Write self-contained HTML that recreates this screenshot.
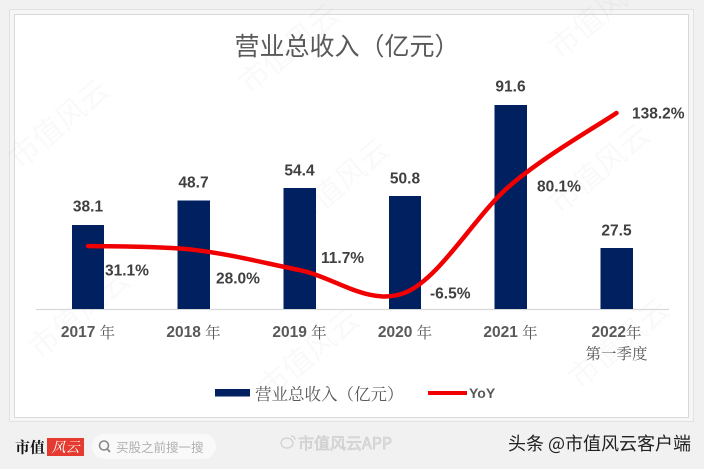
<!DOCTYPE html>
<html><head><meta charset="utf-8">
<style>
html,body{margin:0;padding:0;background:#f1f1f1;}
svg{display:block;}
</style></head>
<body>
<svg width="704" height="469" viewBox="0 0 704 469" xmlns="http://www.w3.org/2000/svg">
  <rect x="0" y="0" width="704" height="469" fill="#f1f1f1"/>
  <rect x="9.5" y="9.5" width="684" height="412" fill="#f6f6f6" stroke="#e2e2e2" stroke-width="1"/>
  <rect x="14.5" y="14.5" width="674" height="403" fill="#ffffff" stroke="#d8d8d8" stroke-width="1"/>

  <!-- watermarks -->
  <g font-family="'Noto Sans CJK SC', sans-serif" font-size="30" fill="#000" fill-opacity="0.022">
    <text x="250" y="95" transform="rotate(-40 250 95)">市值风云</text>
    <text x="560" y="60" transform="rotate(-40 560 60)">市值风云</text>
    <text x="20" y="170" transform="rotate(-40 20 170)">市值风云</text>
    <text x="300" y="230" transform="rotate(-40 300 230)">市值风云</text>
    <text x="560" y="215" transform="rotate(-40 560 215)">市值风云</text>
    <text x="40" y="360" transform="rotate(-40 40 360)">市值风云</text>
    <text x="270" y="400" transform="rotate(-40 270 400)">市值风云</text>
    <text x="580" y="390" transform="rotate(-40 580 390)">市值风云</text>
  </g>

  <!-- title -->
  <text x="347" y="45" text-anchor="middle" dominant-baseline="central" font-family="'Noto Sans CJK SC', sans-serif" font-size="25" fill="#595959">营业总收入（亿元）</text>

  <!-- axis -->
  <line x1="36" y1="309.5" x2="669" y2="309.5" stroke="#d9d9d9" stroke-width="1.2"/>

  <!-- bars -->
  <g fill="#002060">
    <rect x="72" y="225" width="32" height="84"/>
    <rect x="177.5" y="200.5" width="32.5" height="108.5"/>
    <rect x="283.5" y="188" width="32.5" height="121"/>
    <rect x="389" y="196" width="32" height="113"/>
    <rect x="494.5" y="105" width="32.5" height="204"/>
    <rect x="600.5" y="248" width="32.5" height="61"/>
  </g>

  <!-- bar labels -->
  <g font-family="'Liberation Sans', sans-serif" font-weight="bold" font-size="15.5" fill="#404040" text-anchor="middle" dominant-baseline="central">
    <text x="88" y="207">38.1</text>
    <text x="193.5" y="183">48.7</text>
    <text x="299.5" y="171">54.4</text>
    <text x="405" y="179">50.8</text>
    <text x="510.5" y="87">91.6</text>
    <text x="616.5" y="231">27.5</text>
  </g>

  <!-- YoY line -->
  <path d="M88,246 C105.6,246.6 158.25,245.78 193.5,249.8 C228.75,253.82 264.25,262.95 299.5,270.1 C334.75,277.25 369.83,306.87 405,292.7 C440.17,278.53 475.25,215.05 510.5,185.1 C545.75,155.15 598.83,125.02 616.5,113" fill="none" stroke="#f00000" stroke-width="4.5" stroke-linecap="round"/>

  <!-- YoY labels -->
  <g font-family="'Liberation Sans', sans-serif" font-weight="bold" font-size="15.5" fill="#404040" dominant-baseline="central">
    <text x="105" y="271">31.1%</text>
    <text x="216" y="279">28.0%</text>
    <text x="321" y="258.5">11.7%</text>
    <text x="430" y="294">-6.5%</text>
    <text x="537" y="187">80.1%</text>
    <text x="632" y="114">138.2%</text>
  </g>

  <!-- x labels -->
  <g font-size="15.5" fill="#595959" text-anchor="middle" dominant-baseline="central">
    <text x="88" y="332"><tspan font-family="'Liberation Sans', sans-serif" font-weight="bold">2017 </tspan><tspan font-family="'Noto Serif CJK SC', serif">年</tspan></text>
    <text x="193.5" y="332"><tspan font-family="'Liberation Sans', sans-serif" font-weight="bold">2018 </tspan><tspan font-family="'Noto Serif CJK SC', serif">年</tspan></text>
    <text x="299.5" y="332"><tspan font-family="'Liberation Sans', sans-serif" font-weight="bold">2019 </tspan><tspan font-family="'Noto Serif CJK SC', serif">年</tspan></text>
    <text x="405" y="332"><tspan font-family="'Liberation Sans', sans-serif" font-weight="bold">2020 </tspan><tspan font-family="'Noto Serif CJK SC', serif">年</tspan></text>
    <text x="510.5" y="332"><tspan font-family="'Liberation Sans', sans-serif" font-weight="bold">2021 </tspan><tspan font-family="'Noto Serif CJK SC', serif">年</tspan></text>
    <text x="616.5" y="332"><tspan font-family="'Liberation Sans', sans-serif" font-weight="bold">2022</tspan><tspan font-family="'Noto Serif CJK SC', serif">年</tspan></text>
    <text x="616.5" y="353" font-family="'Noto Serif CJK SC', serif">第一季度</text>
  </g>

  <!-- legend -->
  <rect x="215" y="389" width="35" height="7.5" fill="#002060"/>
  <text x="255" y="393" dominant-baseline="central" font-family="'Noto Serif CJK SC', serif" font-size="16.5" fill="#595959">营业总收入（亿元）</text>
  <line x1="428" y1="393" x2="467" y2="393" stroke="#f00000" stroke-width="4"/>
  <text x="469" y="393" dominant-baseline="central" font-family="'Liberation Sans', sans-serif" font-weight="bold" font-size="14" fill="#595959">YoY</text>

  <!-- footer left -->
  <text x="15" y="447" dominant-baseline="central" font-family="'Noto Serif CJK SC', serif" font-weight="bold" font-size="15" fill="#111">市值</text>
  <rect x="47" y="438" width="37" height="18" fill="#e53a2f"/>
  <text x="65.5" y="447" text-anchor="middle" dominant-baseline="central" font-family="'Noto Serif CJK SC', serif" font-style="italic" font-size="14" fill="#ffffff">风云</text>
  <rect x="92" y="434" width="124" height="25" rx="12.5" fill="#f9f9f9"/>
  <circle cx="104" cy="445.5" r="4.5" fill="none" stroke="#8a8a8a" stroke-width="1.6"/>
  <line x1="107.3" y1="449" x2="110" y2="452" stroke="#8a8a8a" stroke-width="1.8"/>
  <text x="116" y="446.5" dominant-baseline="central" font-family="'Noto Sans CJK SC', sans-serif" font-size="12.5" fill="#b0b0b0">买股之前搜一搜</text>

  <!-- footer center watermark -->
  <g fill="none" stroke="#cfcfcf" stroke-width="1.2">
    <ellipse cx="287" cy="443" rx="6" ry="5"/>
    <path d="M291,436 q4,0 4,4"/>
  </g>
  <text x="298" y="442" dominant-baseline="central" font-family="'Noto Sans CJK SC', sans-serif" font-size="16" fill="#e2e2e2" stroke="#c4c4c4" stroke-width="0.5">市值风云APP</text>

  <!-- footer right -->
  <text x="508" y="443" dominant-baseline="central" font-family="'Noto Sans CJK SC', sans-serif" font-size="18" fill="#222">头条 @市值风云客户端</text>
</svg>
</body></html>
